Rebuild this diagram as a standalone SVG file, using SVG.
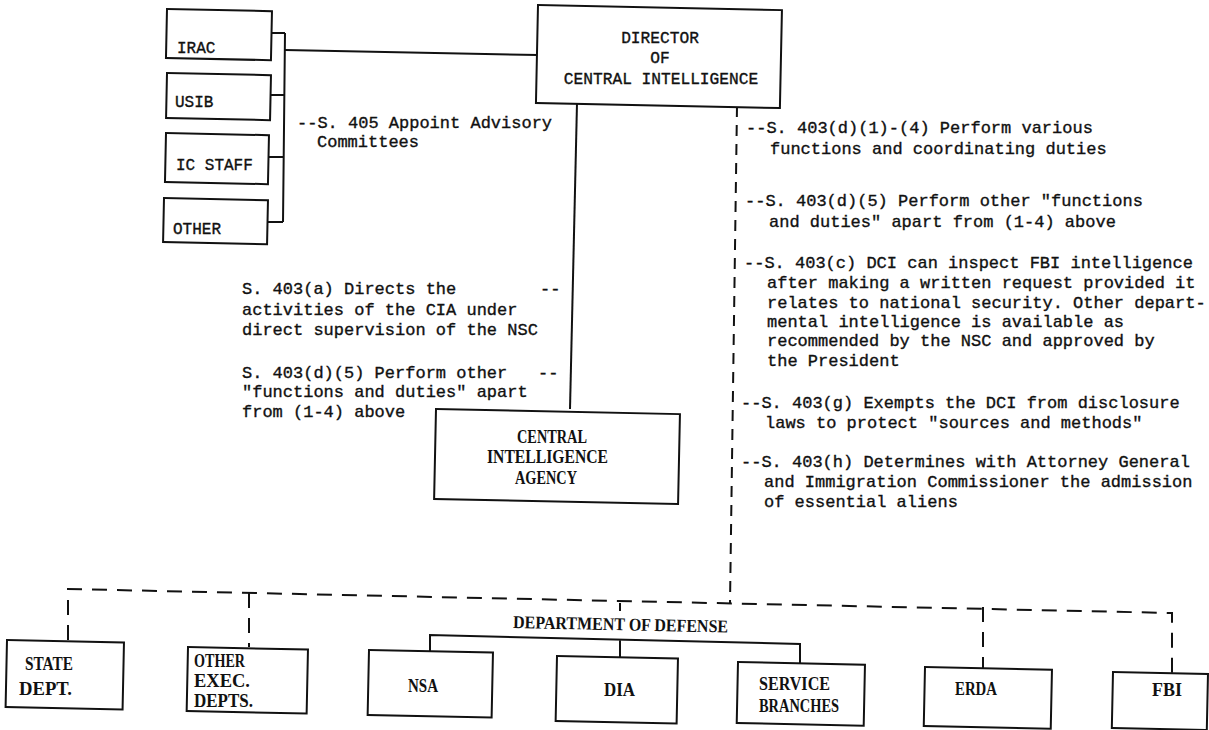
<svg xmlns="http://www.w3.org/2000/svg" width="1209" height="730" viewBox="0 0 1209 730">
<style>
.box{fill:#fff;stroke:#111;stroke-width:2}
.ln{fill:none;stroke:#111;stroke-width:2}
.dash{stroke-dasharray:15 10}
.dv{stroke-dasharray:11 8}
.tw{font-family:"Liberation Mono","DejaVu Sans Mono",monospace;fill:#111;stroke:#111;stroke-width:0.35}
.s16{font-size:16px}
.s17{font-size:17px}
.sf{font-family:"Liberation Serif","DejaVu Serif",serif;font-weight:bold;font-size:18px;fill:#111}
</style>
<rect x="0" y="0" width="1209" height="730" fill="#fff"/>
<g id="connectors">
  <path class="ln" d="M285 50 L538 55"/>
  <path class="ln" d="M285 33 L283 222 M272 33 H285 M271 95 H285 M269 157 H284 M268 222 H283"/>
  <path class="ln" d="M577 103 L570 409"/>
  <path class="ln dv" d="M737 106 L730 603"/>
  <path class="ln dash" d="M68 640 L68 589 L1172 613 L1172 673"/>
  <path class="ln dash" d="M249 593 L249 647"/>
  <path class="ln dash" d="M983 607 L983 668"/>
  <path class="ln" d="M620 603 L620 611"/>
  <path class="ln" d="M430 651 L430 635 L800 644 L800 663 M620 640 L620 658"/>
</g>
<g id="irac"><rect class="box" x="167" y="9" width="105" height="49" transform="rotate(1.2 167 9)"/><text class="tw s16" x="177" y="53">IRAC</text></g>
<g id="usib"><rect class="box" x="167" y="73" width="104" height="45" transform="rotate(1.2 167 73)"/><text class="tw s16" x="175" y="107">USIB</text></g>
<g id="icstaff"><rect class="box" x="166" y="133" width="103" height="49" transform="rotate(1.2 166 133)"/><text class="tw s16" x="176" y="170">IC STAFF</text></g>
<g id="other"><rect class="box" x="164" y="198" width="104" height="44" transform="rotate(1.2 164 198)"/><text class="tw s16" x="173" y="234">OTHER</text></g>
<g id="advisory-note"><text class="tw s17" x="297" y="128">--S. 405 Appoint Advisory</text><text class="tw s17" x="317" y="147">Committees</text></g>
<g id="dci"><rect class="box" x="538" y="5" width="244" height="98" transform="rotate(1.2 538 5)"/>
<text class="tw" font-size="16.2" text-anchor="middle" x="660" y="43">DIRECTOR</text>
<text class="tw" font-size="16.2" text-anchor="middle" x="660" y="63">OF</text>
<text class="tw" font-size="16.2" text-anchor="middle" x="661" y="84">CENTRAL INTELLIGENCE</text></g>
<g id="left-notes" class="tw s17">
<text x="242" y="294">S. 403(a) Directs the</text><text x="540" y="294">--</text>
<text x="242" y="315">activities of the CIA under</text>
<text x="242" y="335">direct supervision of the NSC</text>
<text x="242" y="378">S. 403(d)(5) Perform other</text><text x="538" y="378">--</text>
<text x="242" y="397">"functions and duties" apart</text>
<text x="242" y="417">from (1-4) above</text>
</g>
<g id="right-notes" class="tw s17">
<text x="746" y="133">--S. 403(d)(1)-(4) Perform various</text>
<text x="770" y="154">functions and coordinating duties</text>
<text x="745" y="206">--S. 403(d)(5) Perform other "functions</text>
<text x="769" y="227">and duties" apart from (1-4) above</text>
<text x="744" y="268">--S. 403(c) DCI can inspect FBI intelligence</text>
<text x="767" y="288">after making a written request provided it</text>
<text x="767" y="308">relates to national security. Other depart-</text>
<text x="767" y="327">mental intelligence is available as</text>
<text x="767" y="346">recommended by the NSC and approved by</text>
<text x="767" y="366">the President</text>
<text x="741" y="408">--S. 403(g) Exempts the DCI from disclosure</text>
<text x="765" y="428">laws to protect "sources and methods"</text>
<text x="741" y="467">--S. 403(h) Determines with Attorney General</text>
<text x="764" y="487">and Immigration Commissioner the admission</text>
<text x="764" y="507">of essential aliens</text>
</g>
<g id="cia"><rect class="box" x="436" y="409" width="244" height="90" transform="rotate(1.2 436 409)"/>
<text class="sf" x="517" y="443" textLength="70" lengthAdjust="spacingAndGlyphs">CENTRAL</text>
<text class="sf" x="487" y="463" textLength="121" lengthAdjust="spacingAndGlyphs">INTELLIGENCE</text>
<text class="sf" x="515" y="484" textLength="62" lengthAdjust="spacingAndGlyphs">AGENCY</text></g>
<g id="state"><rect class="box" x="7" y="640" width="117" height="67" transform="rotate(1.2 7 640)"/>
<text class="sf" x="25" y="670" textLength="48" lengthAdjust="spacingAndGlyphs">STATE</text>
<text class="sf" x="19" y="695" textLength="53" lengthAdjust="spacingAndGlyphs">DEPT.</text></g>
<g id="other-exec"><rect class="box" x="188" y="647" width="120" height="64" transform="rotate(1.2 188 647)"/>
<text class="sf" x="194" y="667" textLength="51" lengthAdjust="spacingAndGlyphs">OTHER</text>
<text class="sf" x="194" y="687" textLength="56" lengthAdjust="spacingAndGlyphs">EXEC.</text>
<text class="sf" x="194" y="707" textLength="59" lengthAdjust="spacingAndGlyphs">DEPTS.</text></g>
<g id="dod-label"><text class="sf" x="513" y="628" textLength="215" lengthAdjust="spacingAndGlyphs" transform="rotate(1.2 513 628)">DEPARTMENT OF DEFENSE</text></g>
<g id="nsa"><rect class="box" x="369" y="650" width="124" height="65" transform="rotate(1.2 369 650)"/>
<text class="sf" x="408" y="692" textLength="30" lengthAdjust="spacingAndGlyphs">NSA</text></g>
<g id="dia"><rect class="box" x="557" y="656" width="121" height="65" transform="rotate(1.2 557 656)"/>
<text class="sf" x="604" y="696" textLength="31" lengthAdjust="spacingAndGlyphs">DIA</text></g>
<g id="service"><rect class="box" x="738" y="662" width="127" height="61" transform="rotate(1.2 738 662)"/>
<text class="sf" x="759" y="690" textLength="71" lengthAdjust="spacingAndGlyphs">SERVICE</text>
<text class="sf" x="759" y="712" textLength="80" lengthAdjust="spacingAndGlyphs">BRANCHES</text></g>
<g id="erda"><rect class="box" x="925" y="667" width="127" height="59" transform="rotate(1.2 925 667)"/>
<text class="sf" x="955" y="695" textLength="42" lengthAdjust="spacingAndGlyphs">ERDA</text></g>
<g id="fbi"><rect class="box" x="1113" y="672" width="95" height="56" transform="rotate(1.2 1113 672)"/>
<text class="sf" x="1152" y="696" textLength="30" lengthAdjust="spacingAndGlyphs">FBI</text></g>
</svg>
